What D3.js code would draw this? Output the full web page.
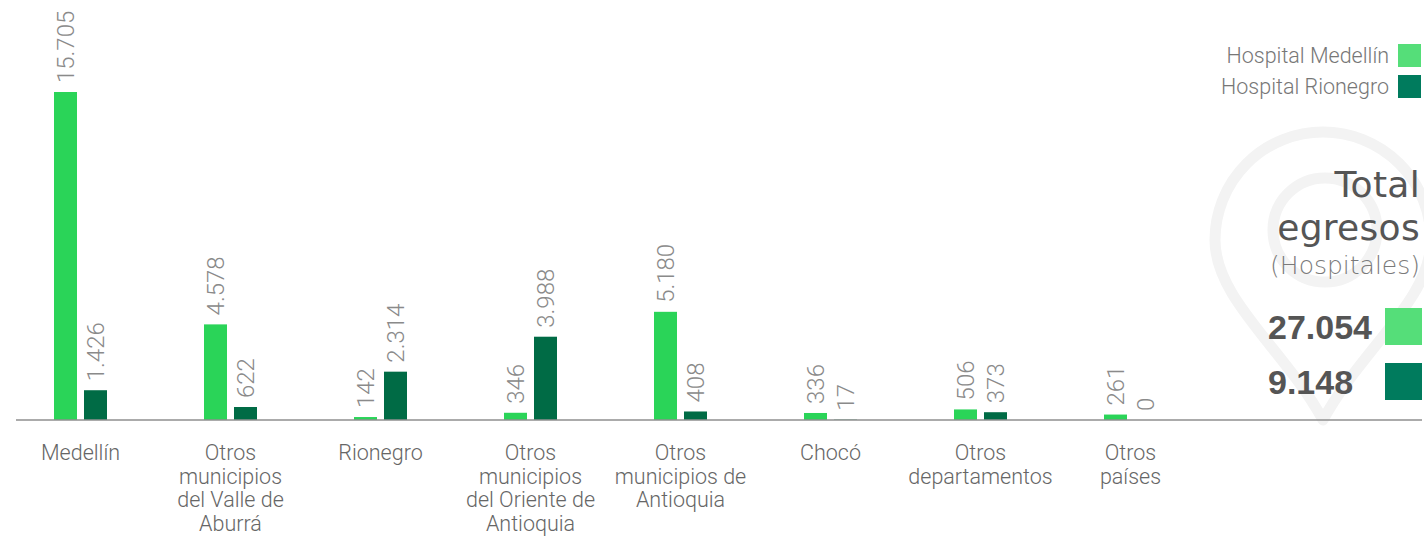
<!DOCTYPE html>
<html>
<head>
<meta charset="utf-8">
<script src="https://cdn.jsdelivr.net/npm/d3@7"></script>
<style>
  html, body { margin: 0; padding: 0; background: #fff; }
  svg { display: block; }
</style>
</head>
<body>
<svg id="chart" width="1424" height="536"></svg>
<script>
// ---- data ----
const categories = [
  "Medellín",
  "Otros municipios del Valle de Aburrá",
  "Rionegro",
  "Otros municipios del Oriente de Antioquia",
  "Otros municipios de Antioquia",
  "Chocó",
  "Otros departamentos",
  "Otros países"
];
const categoryLines = [
  ["Medellín"],
  ["Otros", "municipios", "del Valle de", "Aburrá"],
  ["Rionegro"],
  ["Otros", "municipios", "del Oriente de", "Antioquia"],
  ["Otros", "municipios de", "Antioquia"],
  ["Chocó"],
  ["Otros", "departamentos"],
  ["Otros", "países"]
];
const series = ["Hospital Medellín", "Hospital Rionegro"];
const hospitalMedellin = [15705, 4578, 142, 346, 5180, 336, 506, 261];
const hospitalRionegro = [1426, 622, 2314, 3988, 408, 17, 373, 0];
const totals = [27054, 9148];
const totalTitle = ["Total", "egresos"];
const totalSubtitle = "(Hospitales)";

// ---- styles ----
const barColors = ["#2ad458", "#006b45"];
const legendColors = ["#55de79", "#007b5d"];
const lightFont = "Roboto, 'Liberation Sans', Arial, sans-serif";
const titleFont = "'DejaVu Sans', 'Noto Sans', sans-serif";

const fmt = d3.formatLocale({decimal: ",", thousands: ".", grouping: [3], currency: ["", ""]}).format(",d");

const svg = d3.select("#chart");
const baseY = 420;

// watermark pin
(function () {
  const cx = 1323, cy = 240, R = 108, tip = 420;
  const p = d3.path();
  p.moveTo(cx, tip);
  p.bezierCurveTo(cx - R * 0.35, tip - 70, cx - R, cy + R * 0.55, cx - R, cy);
  p.arc(cx, cy, R, Math.PI, 0);
  p.bezierCurveTo(cx + R, cy + R * 0.55, cx + R * 0.35, tip - 70, cx, tip);
  p.closePath();
  const g = svg.append("g").attr("fill", "none").attr("stroke", "#f3f3f3").attr("stroke-width", 11);
  g.append("path").attr("d", p.toString()).attr("stroke-linejoin", "round");
  g.append("circle").attr("cx", 1325).attr("cy", 230).attr("r", 52);
})();

// scales
const x0 = d3.scaleBand().domain(categories).range([5.5, 5.5 + 150 * categories.length]).padding(0);
const x1 = d3.scaleBand().domain(series).range([-26.5, 26.5]).paddingInner(7 / 30).paddingOuter(0);
const y = d3.scaleLinear().domain([0, 15705]).range([baseY, 92]);

const rows = categories.map((c, i) => ({cat: c, i, values: [hospitalMedellin[i], hospitalRionegro[i]]}));

const groups = svg.append("g").selectAll("g").data(rows).join("g")
  .attr("transform", d => `translate(${x0(d.cat) + x0.bandwidth() / 2},0)`);

groups.selectAll("rect").data(d => d.values.map((v, k) => ({v, k})))
  .join("rect")
  .attr("x", d => x1(series[d.k]))
  .attr("width", x1.bandwidth())
  .attr("y", d => y(d.v))
  .attr("height", d => baseY - y(d.v))
  .attr("fill", d => barColors[d.k]);

groups.selectAll("text.val").data(d => d.values.map((v, k) => ({v, k})))
  .join("text")
  .attr("class", "val")
  .attr("transform", d => `translate(${x1(series[d.k]) + x1.bandwidth() / 2},${y(d.v) - 9}) rotate(-90)`)
  .attr("dy", "0.36em")
  .attr("text-anchor", "start")
  .style("font-family", lightFont)
  .style("font-weight", 300)
  .style("font-size", "24px")
  .style("fill", "#8a8a8a")
  .text(d => fmt(d.v));

// axis
const axis = d3.axisBottom(x0).tickSize(0).tickFormat("");
const ax = svg.append("g").attr("transform", `translate(0,${baseY})`).call(axis);
ax.select(".domain").remove();
ax.append("line").attr("x1", 16).attr("x2", 1422).attr("y1", 0).attr("y2", 0)
  .attr("stroke", "#8f8f8f").attr("stroke-width", 1.6);
ax.selectAll(".tick").each(function (c) {
  const lines = categoryLines[categories.indexOf(c)];
  const t = d3.select(this).append("text")
    .attr("text-anchor", "middle")
    .style("font-family", lightFont)
    .style("font-weight", 300)
    .style("font-size", "21.5px")
    .style("fill", "#666")
    .attr("fill", "#666");
  lines.forEach((l, j) => t.append("tspan").attr("x", 0).attr("y", 40 + j * 23.5).text(l));
});

// legend
const leg = svg.append("g");
series.forEach((s, k) => {
  leg.append("rect").attr("x", 1398).attr("y", 44 + k * 31).attr("width", 23).attr("height", 23).attr("fill", legendColors[k]);
  leg.append("text").attr("x", 1389).attr("y", 63 + k * 30.5).attr("text-anchor", "end")
    .style("font-family", lightFont).style("font-weight", 300).style("font-size", "21.5px").style("fill", "#777")
    .text(s);
});

// totals block
const tb = svg.append("g");
totalTitle.forEach((t, j) => {
  tb.append("text").attr("x", 1420).attr("y", 197 + j * 43).attr("text-anchor", "end")
    .style("font-family", titleFont).style("font-size", "36px")
    .style("letter-spacing", "0.3px").style("fill", "#555")
    .text(t);
});
tb.append("text").attr("x", 1420).attr("y", 273.5).attr("text-anchor", "end")
  .style("font-family", titleFont).style("font-weight", 200).style("font-size", "25px")
  .style("fill", "#7a7a7a")
  .text(totalSubtitle);
totals.forEach((v, k) => {
  tb.append("text").attr("x", 1268).attr("y", 339 + k * 55).attr("text-anchor", "start")
    .style("font-family", "'Liberation Sans', Arial, sans-serif").style("font-weight", 700).style("font-size", "34px").style("fill", "#555")
    .text(fmt(v));
  tb.append("rect").attr("x", 1385).attr("y", 308 + k * 55).attr("width", 37).attr("height", 37).attr("fill", legendColors[k]);
});
</script>
</body>
</html>
